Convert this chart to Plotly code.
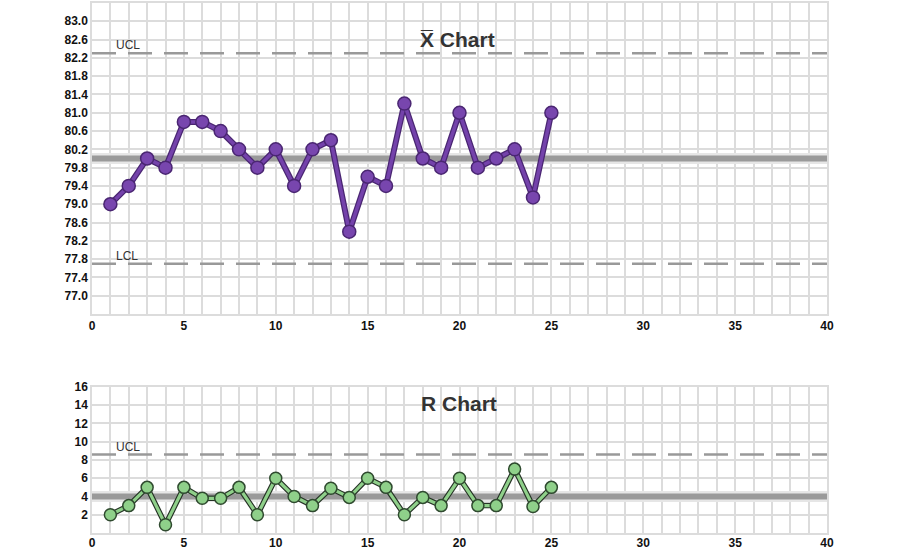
import plotly.graph_objects as go
from plotly.subplots import make_subplots

samples = list(range(1, 26))
xbar = [79.0, 79.4, 80.0, 79.8, 80.8, 80.8, 80.6, 80.2, 79.8, 80.2,
        79.4, 80.2, 80.4, 78.4, 79.6, 79.4, 81.2, 80.0, 79.8, 81.0,
        79.8, 80.0, 80.2, 79.15, 81.0]
ranges = [2, 3, 5, 0.9, 5, 3.8, 3.8, 5, 2, 6,
          4, 3, 4.9, 3.9, 6, 5, 2, 3.9, 3, 6,
          3, 3, 7, 2.9, 5]

x_cl, x_ucl, x_lcl = 80.0, 82.3, 77.7
r_cl, r_ucl = 4.0, 8.6
x_span = [0, 40]

xbar_ticks = [round(77.0 + 0.4 * i, 1) for i in range(16)]
r_ticks = [2, 4, 6, 8, 10, 12, 14, 16]

GRID = "#dcdcdc"
fig = make_subplots(rows=2, cols=1)

def limit_lines(row, cl, limits):
    fig.add_trace(go.Scatter(x=x_span, y=[cl, cl], mode="lines",
                             line=dict(color="#e6e6e6", width=11), hoverinfo="skip"), row=row, col=1)
    fig.add_trace(go.Scatter(x=x_span, y=[cl, cl], mode="lines",
                             line=dict(color="#9a9a9a", width=6), hoverinfo="skip"), row=row, col=1)
    for v in limits:
        fig.add_trace(go.Scatter(x=x_span, y=[v, v], mode="lines",
                                 line=dict(color="#999999", width=2.5, dash="24px,12px"),
                                 hoverinfo="skip"), row=row, col=1)

limit_lines(1, x_cl, [x_ucl, x_lcl])
limit_lines(2, r_cl, [r_ucl])

# X-bar series
fig.add_trace(go.Scatter(x=samples, y=xbar, mode="lines",
                         line=dict(color="#4a2672", width=6)), row=1, col=1)
fig.add_trace(go.Scatter(x=samples, y=xbar, mode="lines+markers",
                         line=dict(color="#7442ab", width=3.5),
                         marker=dict(size=13, color="#7846ae",
                                     line=dict(color="#4a2672", width=1.5))), row=1, col=1)
# R series
fig.add_trace(go.Scatter(x=samples, y=ranges, mode="lines",
                         line=dict(color="#263326", width=5.5)), row=2, col=1)
fig.add_trace(go.Scatter(x=samples, y=ranges, mode="lines+markers",
                         line=dict(color="#8fd08a", width=3.2),
                         marker=dict(size=12, color="#8fd08a",
                                     line=dict(color="#2f4a2f", width=1.5))), row=2, col=1)

tickfont = dict(family="Liberation Sans, Arial, sans-serif", size=12, color="#111", weight="bold")
xcommon = dict(range=[0, 40], dtick=5, tick0=0, showgrid=True, gridcolor=GRID, gridwidth=1.5,
               minor=dict(dtick=1, showgrid=True, gridcolor=GRID, gridwidth=1.5),
               showline=True, mirror=True, linecolor=GRID, linewidth=1.5,
               zeroline=False, tickfont=tickfont, ticks="", fixedrange=True, automargin=False)
fig.update_xaxes(**xcommon, row=1, col=1)
fig.update_xaxes(**xcommon, ticklabelstandoff=-2, row=2, col=1)
fig.update_yaxes(range=[76.6, 83.4], tickvals=xbar_ticks, tickformat=".1f",
                 showgrid=True, gridcolor=GRID, gridwidth=1.5,
                 showline=True, mirror=True, linecolor=GRID, linewidth=1.5,
                 zeroline=False, tickfont=tickfont, ticks="", automargin=False, row=1, col=1)
fig.update_yaxes(range=[0, 16], tickvals=r_ticks,
                 showgrid=True, gridcolor=GRID, gridwidth=1.5,
                 showline=True, mirror=True, linecolor=GRID, linewidth=1.5,
                 zeroline=False, tickfont=tickfont, ticks="", automargin=False, row=2, col=1)

fig.update_layout(
    xaxis=dict(domain=[0, 1]), xaxis2=dict(domain=[0, 1]),
    yaxis=dict(domain=[0.4132, 1.0]), yaxis2=dict(domain=[0.0, 0.2755]),
)

titlefont = dict(family="Liberation Sans, Arial, sans-serif", size=21, color="#333333")
labfont = dict(family="Liberation Sans, Arial, sans-serif", size=12, color="#333333")
fig.add_annotation(x=19.9, y=82.6, xref="x", yref="y", text="<b>X\u0305 Chart</b>",
                   showarrow=False, font=titlefont)
fig.add_annotation(x=19.95, y=14.15, xref="x2", yref="y2", text="<b>R Chart</b>",
                   showarrow=False, font=titlefont)
fig.add_annotation(x=1.2, y=x_ucl, xref="x", yref="y", text="UCL", showarrow=False,
                   xanchor="left", yanchor="bottom", yshift=-1, font=labfont)
fig.add_annotation(x=1.2, y=x_lcl, xref="x", yref="y", text="LCL", showarrow=False,
                   xanchor="left", yanchor="bottom", yshift=-1, font=labfont)
fig.add_annotation(x=1.2, y=r_ucl, xref="x2", yref="y2", text="UCL", showarrow=False,
                   xanchor="left", yanchor="bottom", yshift=-1, font=labfont)

fig.update_layout(width=900, height=550, margin=dict(l=92, r=73, t=3, b=17),
                  paper_bgcolor="white", plot_bgcolor="white", showlegend=False,
                  hovermode=False)
fig.write_html("out.html")
